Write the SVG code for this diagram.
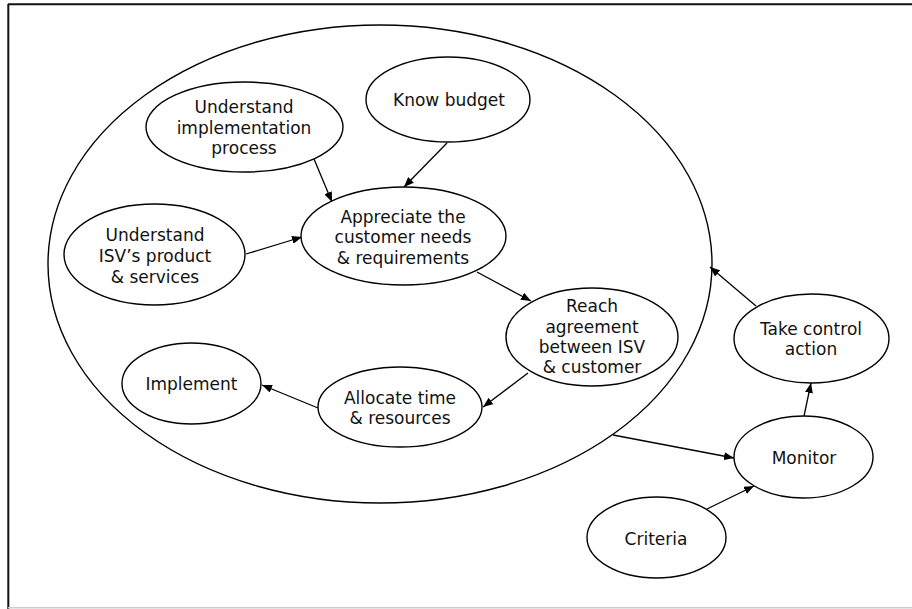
<svg xmlns="http://www.w3.org/2000/svg" width="912" height="609" viewBox="0 0 912 609">
<style>
.n{fill:#fff;stroke:#000;stroke-width:1.4}
.big{fill:none;stroke:#000;stroke-width:1.4}
text{font-family:"DejaVu Sans","Verdana",sans-serif;font-size:17px;fill:#111;text-anchor:middle}
.c line{stroke:#000;stroke-width:1.3;marker-end:url(#ah)}
</style>
<defs>
<marker id="ah" markerUnits="userSpaceOnUse" markerWidth="11" markerHeight="8" refX="10" refY="4" orient="auto">
<path d="M0,0 L10,4 L0,8 z" fill="#000"/>
</marker>
</defs>
<rect x="0" y="0" width="912" height="609" fill="#fff"/>
<g id="frame">
<line x1="8" y1="4.2" x2="912" y2="4.2" stroke="#111" stroke-width="2"/>
<line x1="8.3" y1="4" x2="8.3" y2="609" stroke="#111" stroke-width="2"/>
<line x1="8" y1="607.7" x2="912" y2="607.7" stroke="#ccc" stroke-width="1.5"/>
</g>
<g id="scope"><ellipse class="big" cx="380" cy="264" rx="332" ry="239"/></g>
<g class="c" id="connectors">
<line x1="314" y1="159" x2="332" y2="202"/>
<line x1="447" y1="143" x2="404" y2="187"/>
<line x1="246" y1="254" x2="302" y2="237"/>
<line x1="477" y1="272" x2="531" y2="301"/>
<line x1="528" y1="373" x2="483" y2="407"/>
<line x1="318" y1="408" x2="262" y2="385"/>
<line x1="613" y1="435" x2="734" y2="458"/>
<line x1="707" y1="509" x2="754" y2="486"/>
<line x1="804" y1="416" x2="811" y2="383"/>
<line x1="756" y1="306" x2="710" y2="267"/>
</g>
<g id="know-budget"><ellipse class="n" cx="448" cy="99.5" rx="82" ry="42.5"/><text x="449" y="106">Know budget</text></g>
<g id="understand-impl"><ellipse class="n" cx="244.5" cy="127" rx="98.5" ry="45"/><text x="244" y="113">Understand</text><text x="244" y="134">implementation</text><text x="244" y="154">process</text></g>
<g id="appreciate"><ellipse class="n" cx="403.5" cy="236" rx="102.5" ry="49"/><text x="403" y="223">Appreciate the</text><text x="403" y="243">customer needs</text><text x="403" y="264">&amp; requirements</text></g>
<g id="understand-isv"><ellipse class="n" cx="154.5" cy="254.5" rx="90.5" ry="50.5"/><text x="155" y="241">Understand</text><text x="155" y="262">ISV’s product</text><text x="155" y="283">&amp; services</text></g>
<g id="reach-agreement"><ellipse class="n" cx="592" cy="337" rx="86" ry="49"/><text x="592" y="312">Reach</text><text x="592" y="333">agreement</text><text x="592" y="353">between ISV</text><text x="592" y="373">&amp; customer</text></g>
<g id="allocate"><ellipse class="n" cx="400" cy="407" rx="82" ry="40"/><text x="400" y="404">Allocate time</text><text x="400" y="424">&amp; resources</text></g>
<g id="implement"><ellipse class="n" cx="191.5" cy="383.5" rx="69.5" ry="40.5"/><text x="191.5" y="390">Implement</text></g>
<g id="take-control"><ellipse class="n" cx="811.5" cy="338.5" rx="77.5" ry="44.5"/><text x="811" y="335">Take control</text><text x="811" y="355">action</text></g>
<g id="monitor"><ellipse class="n" cx="803.5" cy="457" rx="69.5" ry="41"/><text x="804" y="464">Monitor</text></g>
<g id="criteria"><ellipse class="n" cx="656.5" cy="537.5" rx="69.5" ry="40.5"/><text x="656" y="545">Criteria</text></g>
</svg>
